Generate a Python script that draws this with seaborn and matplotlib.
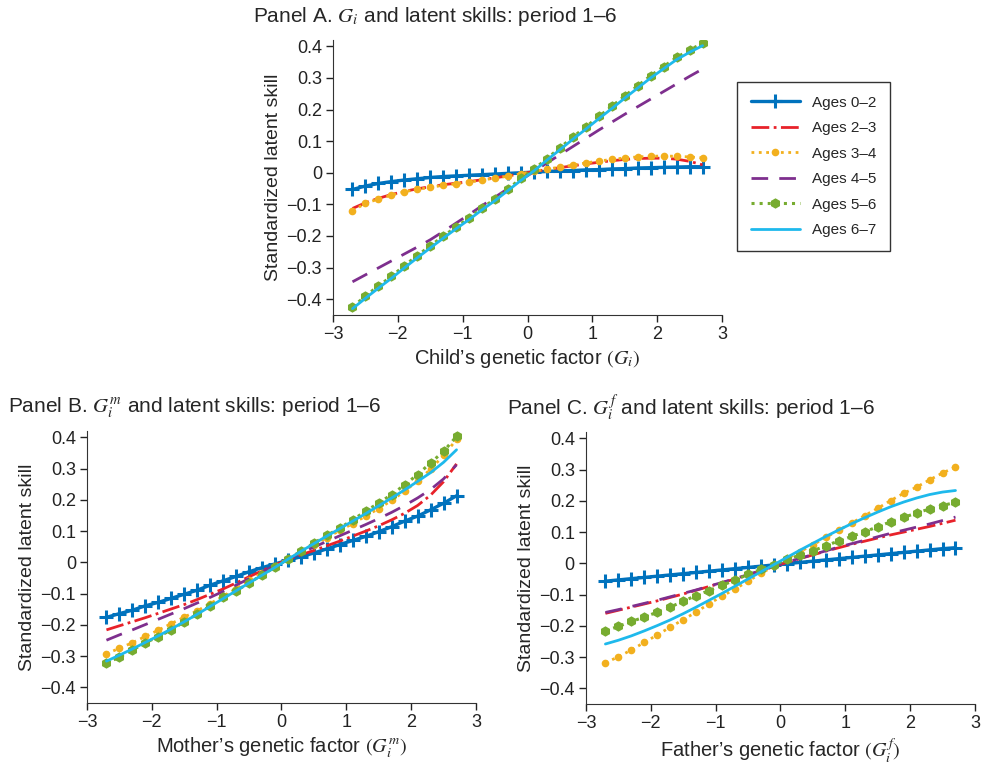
import numpy as np
import pandas as pd
import matplotlib
matplotlib.use("Agg")
import matplotlib.pyplot as plt
import seaborn as sns

# ---------- data ----------
x_vals = [-2.7, -2.5, -2.3, -2.1, -1.9, -1.7, -1.5, -1.3, -1.1, -0.9, -0.7, -0.5, -0.3, -0.1,
          0.1, 0.3, 0.5, 0.7, 0.9, 1.1, 1.3, 1.5, 1.7, 1.9, 2.1, 2.3, 2.5, 2.7]

age_groups = ["Ages 0–2", "Ages 2–3", "Ages 3–4", "Ages 4–5", "Ages 5–6", "Ages 6–7"]

# Panel A: child's genetic factor
a_age02 = [-0.053, -0.042, -0.034, -0.028, -0.023, -0.019, -0.015, -0.012, -0.010, -0.008, -0.006, -0.004, -0.002, 0.000,
           0.002, 0.004, 0.006, 0.007, 0.009, 0.010, 0.012, 0.013, 0.015, 0.016, 0.017, 0.018, 0.019, 0.019]
a_age23 = [-0.113, -0.095, -0.081, -0.069, -0.059, -0.051, -0.044, -0.038, -0.033, -0.028, -0.022, -0.016, -0.010, -0.003,
           0.004, 0.010, 0.016, 0.022, 0.028, 0.033, 0.038, 0.042, 0.045, 0.046, 0.046, 0.043, 0.036, 0.025]
a_age34 = [-0.120, -0.097, -0.083, -0.071, -0.060, -0.053, -0.046, -0.040, -0.035, -0.030, -0.023, -0.017, -0.011, -0.003,
           0.005, 0.011, 0.018, 0.024, 0.031, 0.037, 0.042, 0.047, 0.050, 0.052, 0.053, 0.052, 0.050, 0.047]
a_age45 = [-0.345, -0.323, -0.301, -0.279, -0.257, -0.235, -0.212, -0.186, -0.159, -0.132, -0.104, -0.077, -0.050, -0.023,
           0.004, 0.031, 0.057, 0.083, 0.109, 0.135, 0.160, 0.185, 0.209, 0.233, 0.257, 0.281, 0.305, 0.328]
a_age56 = [-0.425, -0.390, -0.358, -0.328, -0.294, -0.262, -0.231, -0.201, -0.171, -0.143, -0.111, -0.083, -0.051, -0.018,
           0.011, 0.045, 0.079, 0.113, 0.145, 0.178, 0.210, 0.243, 0.275, 0.307, 0.336, 0.365, 0.388, 0.410]
a_age67 = [-0.430, -0.397, -0.365, -0.334, -0.301, -0.269, -0.238, -0.207, -0.177, -0.148, -0.117, -0.088, -0.056, -0.024,
           0.006, 0.040, 0.073, 0.106, 0.138, 0.171, 0.203, 0.236, 0.268, 0.300, 0.329, 0.358, 0.381, 0.402]

# Panel B: mother's genetic factor
b_age02 = [-0.176, -0.164, -0.153, -0.139, -0.128, -0.115, -0.102, -0.089, -0.073, -0.059, -0.045, -0.030, -0.017, -0.005,
           0.007, 0.018, 0.030, 0.043, 0.057, 0.070, 0.083, 0.098, 0.114, 0.132, 0.148, 0.168, 0.189, 0.213]
b_age23 = [-0.216, -0.203, -0.190, -0.177, -0.163, -0.149, -0.135, -0.119, -0.102, -0.085, -0.066, -0.046, -0.027, -0.008,
           0.009, 0.024, 0.038, 0.053, 0.068, 0.084, 0.100, 0.117, 0.136, 0.157, 0.182, 0.215, 0.258, 0.315]
b_age34 = [-0.292, -0.275, -0.257, -0.237, -0.217, -0.196, -0.175, -0.155, -0.132, -0.108, -0.084, -0.058, -0.035, -0.011,
           0.012, 0.035, 0.057, 0.079, 0.102, 0.124, 0.148, 0.172, 0.198, 0.228, 0.260, 0.298, 0.342, 0.393]
b_age45 = [-0.249, -0.232, -0.216, -0.199, -0.182, -0.165, -0.148, -0.130, -0.112, -0.093, -0.073, -0.052, -0.031, -0.010,
           0.011, 0.030, 0.049, 0.067, 0.085, 0.103, 0.121, 0.140, 0.160, 0.182, 0.206, 0.233, 0.267, 0.312]
b_age56 = [-0.323, -0.303, -0.281, -0.257, -0.238, -0.216, -0.190, -0.166, -0.139, -0.112, -0.091, -0.066, -0.040, -0.016,
           0.011, 0.035, 0.062, 0.086, 0.110, 0.136, 0.164, 0.190, 0.217, 0.248, 0.281, 0.318, 0.355, 0.403]
b_age67 = [-0.316, -0.297, -0.277, -0.256, -0.235, -0.213, -0.190, -0.166, -0.141, -0.116, -0.091, -0.066, -0.041, -0.016,
           0.010, 0.035, 0.060, 0.084, 0.108, 0.132, 0.156, 0.181, 0.206, 0.232, 0.259, 0.287, 0.320, 0.360]

# Panel C: father's genetic factor
c_age02 = [-0.057, -0.053, -0.049, -0.045, -0.041, -0.037, -0.033, -0.029, -0.025, -0.021, -0.017, -0.013, -0.009, -0.005,
           -0.001, 0.003, 0.007, 0.011, 0.015, 0.019, 0.023, 0.027, 0.031, 0.035, 0.039, 0.043, 0.047, 0.050]
c_age23 = [-0.160, -0.150, -0.140, -0.130, -0.120, -0.109, -0.098, -0.086, -0.074, -0.062, -0.050, -0.037, -0.024, -0.010,
           0.003, 0.015, 0.027, 0.039, 0.050, 0.061, 0.071, 0.081, 0.091, 0.100, 0.109, 0.118, 0.128, 0.138]
c_age34 = [-0.318, -0.299, -0.277, -0.253, -0.229, -0.204, -0.180, -0.156, -0.129, -0.105, -0.082, -0.057, -0.032, -0.009,
           0.015, 0.037, 0.059, 0.083, 0.106, 0.129, 0.153, 0.176, 0.201, 0.224, 0.244, 0.267, 0.289, 0.308]
c_age45 = [-0.157, -0.148, -0.138, -0.128, -0.118, -0.107, -0.096, -0.085, -0.073, -0.061, -0.049, -0.036, -0.023, -0.009,
           0.004, 0.016, 0.028, 0.040, 0.052, 0.063, 0.074, 0.085, 0.096, 0.106, 0.116, 0.126, 0.137, 0.148]
c_age56 = [-0.215, -0.202, -0.186, -0.172, -0.156, -0.140, -0.121, -0.103, -0.087, -0.070, -0.054, -0.035, -0.019, -0.006,
           0.013, 0.026, 0.040, 0.056, 0.072, 0.086, 0.101, 0.117, 0.133, 0.147, 0.161, 0.174, 0.185, 0.195]
c_age67 = [-0.258, -0.246, -0.232, -0.216, -0.199, -0.181, -0.161, -0.140, -0.118, -0.096, -0.073, -0.050, -0.027, -0.004,
           0.019, 0.042, 0.064, 0.086, 0.107, 0.127, 0.146, 0.164, 0.181, 0.196, 0.209, 0.220, 0.228, 0.233]

y_ticks = [-0.4, -0.3, -0.2, -0.1, 0, 0.1, 0.2, 0.3, 0.4]
y_tick_labels = ["\u22120.4", "\u22120.3", "\u22120.2", "\u22120.1", "0", "0.1", "0.2", "0.3", "0.4"]
x_ticks = [-3, -2, -1, 0, 1, 2, 3]
x_tick_labels = ["\u22123", "\u22122", "\u22121", "0", "1", "2", "3"]

# ---------- styles ----------
styles = {
    "Ages 0–2": dict(color="#0072BD", linestyle="-", marker="+", markersize=10,
                     markeredgewidth=2.2, markeredgecolor="#0072BD", linewidth=2.4),
    "Ages 2–3": dict(color="#E8222A", linestyle="-.", linewidth=2),
    "Ages 3–4": dict(color="#F2B01E", linestyle=":", marker="o", markersize=5.5,
                     markeredgewidth=0, markeredgecolor="#F2B01E", linewidth=2),
    "Ages 4–5": dict(color="#7E2F8E", linestyle=(0, (6, 4)), linewidth=2),
    "Ages 5–6": dict(color="#77AC30", linestyle=":", marker="h", markersize=7.5,
                     markeredgewidth=0, markeredgecolor="#77AC30", linewidth=2.2),
    "Ages 6–7": dict(color="#1EB9EC", linestyle="-", linewidth=2),
}

panels = {
    "A": [a_age02, a_age23, a_age34, a_age45, a_age56, a_age67],
    "B": [b_age02, b_age23, b_age34, b_age45, b_age56, b_age67],
    "C": [c_age02, c_age23, c_age34, c_age45, c_age56, c_age67],
}

sns.set_style("ticks")
plt.rcParams["font.family"] = ["Liberation Sans", "DejaVu Sans"]
plt.rcParams["mathtext.fontset"] = "stix"

fig = plt.figure(figsize=(9.83, 7.64), dpi=100)
axA = fig.add_axes([0.3388, 0.5877, 0.3957, 0.36])
axB = fig.add_axes([0.0885, 0.0798, 0.3957, 0.356])
axC = fig.add_axes([0.5961, 0.0785, 0.3957, 0.356])

xlabels = {
    "A": "Child\u2019s genetic factor $(G_i)$",
    "B": "Mother\u2019s genetic factor $(G_i^m)$",
    "C": "Father\u2019s genetic factor $(G_i^f)$",
}

for key, ax in zip(["A", "B", "C"], [axA, axB, axC]):
    df = pd.DataFrame({"x": x_vals})
    for name, vals in zip(age_groups, panels[key]):
        df[name] = vals
    for name in age_groups:
        sns.lineplot(data=df, x="x", y=name, ax=ax, label=name, **styles[name])
    ax.set_xlim(-3, 3)
    ax.set_ylim(-0.45, 0.42)
    ax.set_xticks(x_ticks)
    ax.set_xticklabels(x_tick_labels)
    ax.set_yticks(y_ticks)
    ax.set_yticklabels(y_tick_labels)
    ax.tick_params(labelsize=13, length=5, width=1, colors="#222222", direction="out", pad=3)
    for side in ["left", "bottom"]:
        ax.spines[side].set_color("#333333")
    sns.despine(ax=ax)
    ax.set_xlabel(xlabels[key], fontsize=14.5, labelpad=3)
    ax.set_ylabel("Standardized latent skill", fontsize=14, labelpad=3)
    handles, labels = ax.get_legend_handles_labels()
    ax.get_legend().remove()

leg = fig.legend(handles, labels, loc="upper left", bbox_to_anchor=(737 / 983, 1 - 82 / 764),
                 borderaxespad=0, fontsize=11, handlelength=3.2, labelspacing=0.75,
                 frameon=True, fancybox=False, edgecolor="black", borderpad=0.9)
leg.get_frame().set_linewidth(1)

fig.text(253 / 983, 1 - 17 / 764, "Panel A. $G_i$ and latent skills: period 1\u20136",
         fontsize=15, va="center", ha="left")
fig.text(8 / 983, 1 - 408 / 764, "Panel B. $G_i^m$ and latent skills: period 1\u20136",
         fontsize=15, va="center", ha="left")
fig.text(507 / 983, 1 - 408 / 764, "Panel C. $G_i^f$ and latent skills: period 1\u20136",
         fontsize=15, va="center", ha="left")

fig.savefig("out.png", dpi=100)
